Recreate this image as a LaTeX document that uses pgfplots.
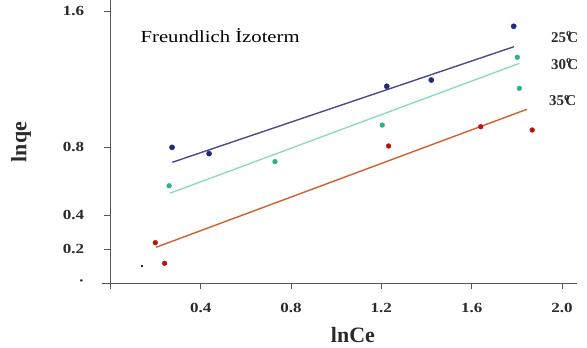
\documentclass[border=0pt]{standalone}
\usepackage{pgfplots}
\pgfplotsset{compat=1.18}
\usepackage{fontspec}
\setmainfont{Liberation Serif}
\definecolor{bluept}{HTML}{1F2A80}
\definecolor{blueln}{HTML}{4F4A8C}
\definecolor{tealpt}{HTML}{2FB08A}
\definecolor{tealln}{HTML}{8EDDB6}
\definecolor{redpt}{HTML}{B31515}
\definecolor{redln}{HTML}{D0602E}
\definecolor{axc}{HTML}{555555}
\definecolor{txt}{HTML}{2A2A2A}
\begin{document}
\begin{tikzpicture}
\path[use as bounding box] (-110.4bp,-65bp) rectangle (476.6bp,283bp);
\begin{axis}[
  at={(0,0)}, anchor=south west,
  x=225.8bp, y=170bp,
  xmin=0, xmax=2.066, ymin=0, ymax=1.665,
  enlargelimits=false,
  axis lines=left,
  axis line style={-, axc, line width=0.6bp},
  tick style={axc, line width=0.6bp},
  tick align=outside,
  major tick length=6bp,
  clip=false,
  xtick={0,0.4,0.8,1.2,1.6,2.0},
  xticklabels={,0.4,0.8,1.2,1.6,2.0},
  ytick={0,0.2,0.4,0.8,1.6},
  yticklabels={\textperiodcentered,0.2,0.4,0.8,1.6},
  ticklabel style={font=\fontsize{14}{16}\selectfont\bfseries, text=txt, xscale=1.22},
  xticklabel style={yshift=-11bp},
  yticklabel style={xshift=-13bp},
  /pgf/number format/assume math mode=true,
]
\draw[axc, line width=0.6bp] (axis cs:-0.035,0) -- (axis cs:0,0);
% fitted lines
\addplot[blueln, line width=1.4bp, no marks] coordinates {(0.274,0.710) (1.787,1.390)};
\addplot[tealln, line width=1.4bp, no marks] coordinates {(0.264,0.528) (1.811,1.292)};
\addplot[redln, line width=1.4bp, no marks] coordinates {(0.202,0.210) (1.845,1.022)};
% data points
\addplot[only marks, mark=*, mark size=2.6bp, bluept, mark options={draw=bluept, fill=bluept}] coordinates {
(0.273,0.798) (0.437,0.761) (1.224,1.157) (1.421,1.194) (1.786,1.510)};
\addplot[only marks, mark=*, mark size=2.4bp, tealpt, mark options={draw=tealpt, fill=tealpt}] coordinates {
(0.260,0.572) (0.729,0.714) (1.204,0.929) (1.802,1.328) (1.811,1.145)};
\addplot[only marks, mark=*, mark size=2.4bp, redpt, mark options={draw=redpt, fill=redpt}] coordinates {
(0.199,0.237) (0.240,0.116) (1.232,0.806) (1.640,0.919) (1.868,0.900)};
\addplot[only marks, mark=*, mark size=0.8bp, black] coordinates {(0.140,0.100)};
% texts
\node[font=\fontsize{17}{20}\selectfont, text=black, xscale=1.22] at (axis cs:0.486,1.453) {Freundlich İzoterm};
\node[font=\fontsize{15}{18}\selectfont\bfseries, text=txt] at (axis cs:2.012,1.447) {25\textsuperscript{o}\kern-0.3em C};
\node[font=\fontsize{15}{18}\selectfont\bfseries, text=txt] at (axis cs:2.012,1.288) {30\textsuperscript{o}\kern-0.3em C};
\node[font=\fontsize{15}{18}\selectfont\bfseries, text=txt] at (axis cs:2.003,1.071) {35\textsuperscript{o}\kern-0.3em C};
\node[font=\fontsize{22}{26}\selectfont\bfseries, text=txt] at (axis cs:1.074,-0.306) {lnCe};
\node[font=\fontsize{22}{26}\selectfont\bfseries, text=txt, rotate=90] at (axis cs:-0.396,0.829) {lnqe};
\end{axis}
\end{tikzpicture}
\end{document}
